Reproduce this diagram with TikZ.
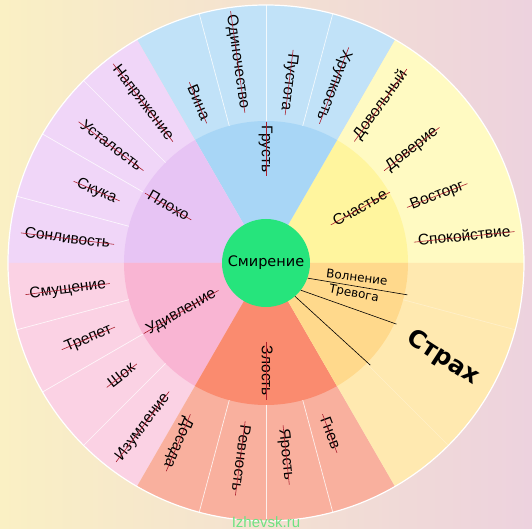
\documentclass[tikz,border=0pt]{standalone}
\usepackage{fontspec}
\setmainfont{Liberation Sans}
\newfontfamily\verd{DejaVu Sans}
\definecolor{bgcream}{RGB}{250,240,196}
\definecolor{bgpink}{RGB}{237,210,222}
\definecolor{smgreen}{RGB}{38,228,124}
\definecolor{sadin}{RGB}{168,214,246}
\definecolor{sadout}{RGB}{193,226,248}
\definecolor{joyin}{RGB}{255,245,158}
\definecolor{joyout}{RGB}{255,250,194}
\definecolor{fearin}{RGB}{255,217,140}
\definecolor{fearout}{RGB}{255,233,176}
\definecolor{angin}{RGB}{250,139,111}
\definecolor{angout}{RGB}{249,176,158}
\definecolor{surin}{RGB}{249,181,211}
\definecolor{surout}{RGB}{251,210,228}
\definecolor{badin}{RGB}{231,196,244}
\definecolor{badout}{RGB}{240,214,248}
\definecolor{strikered}{RGB}{170,30,45}
\definecolor{wmgreen}{RGB}{110,226,130}
\tikzset{
x=1pt, y=1pt, % one unit is one pixel of the wheel
word/.style={font=\fontsize{15.5}{17}\selectfont, inner xsep=4pt, inner ysep=0pt,
  text height=8.2pt, text depth=0pt,
  append after command={(\tikzlastnode.west) edge[strike] (\tikzlastnode.east)}}, % crossed-out word
strike/.style={draw=strikered, line width=0.6pt},
divider/.style={draw=white, line width=0.7pt, opacity=0.8}, % thin lines in the outer ring
plain/.style={font=\verd\fontsize{12}{14}\selectfont, inner sep=1pt},
}
\begin{document}
\begin{tikzpicture}
\useasboundingbox (-266,-266) rectangle (266,263);
\shade[left color=bgcream, right color=bgpink] (-266,-266) rectangle (266,263);

% sectors, outer and inner ring
\foreach \a/\inn/\out in {0/joyin/joyout, 60/sadin/sadout, 120/badin/badout,
    180/surin/surout, 240/angin/angout, 300/fearin/fearout}{
  \fill[\out] (0,0) -- (\a:258) arc[start angle=\a, end angle=\a+60, radius=258] -- cycle;
  \fill[\inn] (0,0) -- (\a:142) arc[start angle=\a, end angle=\a+60, radius=142] -- cycle;
}
\foreach \a in {75,90,105,135,150,165,195,210,225,255,270,285}
  \draw[divider] (\a:142) -- (\a:258);
\foreach \a in {-15,-45}
  \draw[divider, opacity=0.3] (\a:142) -- (\a:258);
\draw[white, line width=1.2pt] (0,0) circle (258);

\node[circle, fill=smgreen, minimum size=88pt, inner sep=0pt,
      font=\verd\fontsize{14.5}{16}\selectfont] (smir) at (0,0) {Смирение};

% inner words
\node[word, rotate=-30] (bad) at (150:113) {Плохо};
\node[word, rotate=30] (surprise) at (210:98) {Удивление};
\node[word, rotate=-90] (sad) at (90:114) {Грусть};
\node[word, rotate=29] (joy) at (30:109) {Счастье};
\node[word, rotate=-90] (anger) at (-90:108) {Злость};

% outer words
\foreach \ang/\rad/\rot/\nm/\txt in {
    127.5/202/-52.5/tension/Напряжение, 143/194/-37/tired/Усталость,
    157/184/-23/bored/Скука, 173/200/-7/sleepy/Сонливость,
    187.5/200/7.5/shy/Смущение, 203/193/23/awe/Трепет,
    218/183/38/shock/Шок, 233/205/53/amaze/Изумление,
    113/174/-67/guilt/Вина, 98/203/-82/lonely/Одиночество,
    82.7/182/-97/empty/Пустота, 69/190/-111/fragile/Хрупкость,
    54/195/54/content/Довольный, 38/185/38/trust/Доверие,
    21.5/184/21.5/delight/Восторг, 7.5/200/6/calm/Спокойствие,
    -116/200/-113/annoy/Досада, -97.5/197/-97.5/jealous/Ревность,
    -84/193/-84/rage/Ярость, -69.5/182/-69.5/wrath/Гнев}
  \node[word, rotate=\rot] (\nm) at (\ang:\rad) {\txt};

% fear sector
\node[plain, rotate=-7] (worry) at (91,-14) {Волнение};
\node[plain, rotate=-11] (alarm) at (88,-31) {Тревога};
\node[font=\verd\bfseries\fontsize{24}{28}\selectfont, rotate=-33] (fear) at (177,-95) {Страх};
\coordinate (l1) at (-12.7:145);
\coordinate (l2) at (-25.1:144);
\coordinate (l3) at (-44.4:146);
\draw[line width=0.6pt] (smir.-20) -- (l1);
\draw[line width=0.6pt] (smir.-38) -- (l2);
\draw[line width=0.6pt] (smir.-49) -- (l3);

\node[text=wmgreen, font=\fontsize{15}{17}\selectfont] (wm) at (0,-259) {Izhevsk.ru};
\end{tikzpicture}
\end{document}
